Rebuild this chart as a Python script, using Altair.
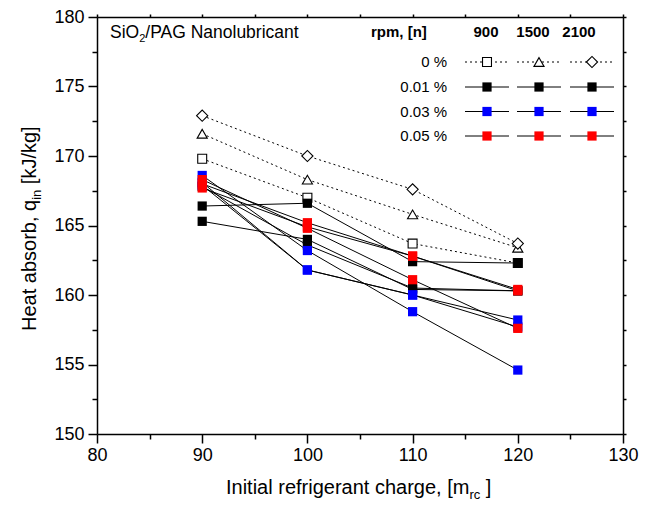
import altair as alt
import pandas as pd

# ---------------- data ----------------
charge = [90, 100, 110, 120]
rpm_levels = ["900", "1500", "2100"]
conc_levels = ["0 %", "0.01 %", "0.03 %", "0.05 %"]

q_0_900 = [169.8, 167.0, 163.7, 162.3]
q_0_1500 = [171.6, 168.3, 165.8, 163.4]
q_0_2100 = [172.9, 170.0, 167.6, 163.7]

q_001_900 = [166.4, 166.6, 162.4, 162.3]
q_001_1500 = [165.3, 164.0, 160.4, 160.3]
q_001_2100 = [167.8, 163.6, 160.5, 160.3]

q_003_900 = [168.1, 161.8, 160.0, 158.2]
q_003_1500 = [167.9, 161.8, 160.0, 157.7]
q_003_2100 = [168.6, 163.2, 158.8, 154.6]

q_005_900 = [168.0, 165.2, 162.8, 160.3]
q_005_1500 = [167.7, 164.9, 162.8, 160.4]
q_005_2100 = [168.3, 164.8, 161.1, 157.6]

x_ticks = [80, 85, 90, 95, 100, 105, 110, 115, 120, 125, 130]
y_ticks = [150, 152.5, 155, 157.5, 160, 162.5, 165, 167.5, 170, 172.5, 175, 177.5, 180]

series_values = {
    ("0 %", "900"): q_0_900, ("0 %", "1500"): q_0_1500, ("0 %", "2100"): q_0_2100,
    ("0.01 %", "900"): q_001_900, ("0.01 %", "1500"): q_001_1500, ("0.01 %", "2100"): q_001_2100,
    ("0.03 %", "900"): q_003_900, ("0.03 %", "1500"): q_003_1500, ("0.03 %", "2100"): q_003_2100,
    ("0.05 %", "900"): q_005_900, ("0.05 %", "1500"): q_005_1500, ("0.05 %", "2100"): q_005_2100,
}

rows = []
for (conc, rpm), vals in series_values.items():
    for c, q in zip(charge, vals):
        rows.append({"charge": c, "q": q, "conc": conc, "rpm": rpm, "series": conc + "|" + rpm})
df = pd.DataFrame(rows)
df_open = df[df["conc"] == "0 %"]
df_fill = df[df["conc"] != "0 %"]

# ---------------- layout / style ----------------
W, H = 526, 417
X_MIN, X_MAX, Y_MIN, Y_MAX = 80, 130, 150, 180
FONT = "Liberation Sans"
xs = alt.Scale(domain=[X_MIN, X_MAX], nice=False, zero=False)
ys = alt.Scale(domain=[Y_MIN, Y_MAX], nice=False, zero=False)


def px_x(p):
    return X_MIN + p / W * (X_MAX - X_MIN)


def px_y(p):
    return Y_MAX - p / H * (Y_MAX - Y_MIN)


shape_scale = alt.Scale(domain=rpm_levels, range=["square", "triangle-up", "diamond"])
size_scale = alt.Scale(domain=rpm_levels, range=[80, 125, 135])
color_scale = alt.Scale(domain=conc_levels[1:], range=["#000000", "#0000ff", "#ff0000"])

axis_bottom = alt.Axis(
    orient="bottom", values=x_ticks, format="d", title=None,
    labelExpr="datum.value % 10 === 0 ? datum.label : ''",
    tickSize={"condition": {"test": "datum.value % 10 === 0", "value": 9}, "value": 5},
    labelPadding=3,
)
axis_left = alt.Axis(
    orient="left", values=y_ticks, format="d", title=None,
    labelExpr="datum.value % 5 === 0 ? datum.label : ''",
    tickSize={"condition": {"test": "datum.value % 5 === 0", "value": 9}, "value": 5},
    labelPadding=4,
)
axis_top = alt.Axis(orient="top", values=x_ticks, labels=False, title=None, tickSize=3)
axis_right = alt.Axis(orient="right", values=y_ticks, labels=False, title=None, tickSize=3)

# axis-carrying invisible layers
axes_bl = alt.Chart(df).mark_point(opacity=0).encode(
    x=alt.X("charge:Q", scale=xs, axis=axis_bottom),
    y=alt.Y("q:Q", scale=ys, axis=axis_left),
)
axes_tr = alt.Chart(df).mark_point(opacity=0).encode(
    x=alt.X("charge:Q", scale=xs, axis=axis_top),
    y=alt.Y("q:Q", scale=ys, axis=axis_right),
)

X = alt.X("charge:Q", scale=xs, axis=None)
Y = alt.Y("q:Q", scale=ys, axis=None)

lines_dotted = alt.Chart(df_open).mark_line(color="black", strokeWidth=1, strokeDash=[2, 3]).encode(
    x=X, y=Y, detail="series:N"
)
lines_solid = alt.Chart(df_fill).mark_line(color="black", strokeWidth=1).encode(
    x=X, y=Y, detail="series:N"
)
open_pts = alt.Chart(df_open).mark_point(
    filled=True, fill="white", stroke="black", strokeWidth=1.1, opacity=1
).encode(
    x=X, y=Y,
    shape=alt.Shape("rpm:N", scale=shape_scale, legend=None),
    size=alt.Size("rpm:N", scale=size_scale, legend=None),
)
fill_pts = alt.Chart(df_fill).mark_point(shape="square", filled=True, size=85, opacity=1).encode(
    x=X, y=Y,
    color=alt.Color("conc:N", scale=color_scale, legend=None),
)

# ---------------- custom legend ----------------
leg_row_y = [45, 70, 94.5, 119]
leg_col_x = [390, 442, 495]
leg_rows = []
for i, conc in enumerate(conc_levels):
    for j, rpm in enumerate(rpm_levels):
        leg_rows.append({
            "conc": conc, "rpm": rpm,
            "lx": px_x(leg_col_x[j]), "lx0": px_x(leg_col_x[j] - 22), "lx1": px_x(leg_col_x[j] + 22),
            "ly": px_y(leg_row_y[i]),
        })
leg = pd.DataFrame(leg_rows)
leg_open = leg[leg["conc"] == "0 %"]
leg_fill = leg[leg["conc"] != "0 %"]

LX = alt.X("lx:Q", scale=xs, axis=None)
LY = alt.Y("ly:Q", scale=ys, axis=None)

leg_rule_dot = alt.Chart(leg_open).mark_rule(color="black", strokeWidth=1, strokeDash=[2, 3]).encode(
    x=alt.X("lx0:Q", scale=xs, axis=None), x2="lx1:Q", y=LY
)
leg_rule_solid = alt.Chart(leg_fill).mark_rule(color="black", strokeWidth=1).encode(
    x=alt.X("lx0:Q", scale=xs, axis=None), x2="lx1:Q", y=LY
)
leg_open_pts = alt.Chart(leg_open).mark_point(
    filled=True, fill="white", stroke="black", strokeWidth=1.1, opacity=1
).encode(
    x=LX, y=LY,
    shape=alt.Shape("rpm:N", scale=shape_scale, legend=None),
    size=alt.Size("rpm:N", scale=size_scale, legend=None),
)
leg_fill_pts = alt.Chart(leg_fill).mark_point(shape="square", filled=True, size=85, opacity=1).encode(
    x=LX, y=LY, color=alt.Color("conc:N", scale=color_scale, legend=None)
)


def txt(s, x, y, size, align="left", baseline="alphabetic", weight="normal", angle=0):
    return alt.Chart(pd.DataFrame({"t": [s]})).mark_text(
        align=align, baseline=baseline, font=FONT, fontSize=size,
        fontWeight=weight, angle=angle, color="black",
    ).encode(text="t:N", x=alt.value(x), y=alt.value(y))


texts = []
# panel title with subscript
TS = 17.5
texts.append(txt("SiO", 13, 21, TS))
texts.append(txt("2", 13 + 1.667 * TS, 25, 11))
texts.append(txt("/PAG Nanolubricant", 13 + 1.667 * TS + 6.1, 21, TS))
# legend header
texts.append(txt("rpm, [n]", 274, 15, 15, baseline="middle", weight="bold"))
for cx, r in zip([389, 436, 482], rpm_levels):
    texts.append(txt(r, cx, 15, 15, align="center", baseline="middle", weight="bold"))
for ry, c in zip(leg_row_y, conc_levels):
    texts.append(txt(c, 350, ry, 15, align="right", baseline="middle"))

# x-axis title with subscript
xt0 = 129
texts.append(txt("Initial refrigerant charge, [m", xt0, 477, 20))
xs1 = xt0 + 12.171 * 20
texts.append(txt("rc", xs1, 482, 13))
texts.append(txt("]", xs1 + 0.833 * 13 + 0.278 * 20, 477, 20))

# y-axis title (rotated) with subscript
yt0 = 314
texts.append(txt("Heat absorb, q", -61, yt0, 20, angle=270))
ys1 = yt0 - 6.559 * 20
texts.append(txt("in", -56, ys1, 13, angle=270))
texts.append(txt("[kJ/kg]", -61, ys1 - 0.778 * 13 - 0.278 * 20, 20, angle=270))

chart = alt.layer(
    axes_bl, axes_tr,
    lines_dotted, lines_solid, open_pts, fill_pts,
    leg_rule_dot, leg_rule_solid, leg_open_pts, leg_fill_pts,
    *texts,
).properties(
    width=W, height=H,
    padding={"left": 89, "top": 9, "right": 22, "bottom": 67},
    autosize=alt.AutoSizeParams(type="none"),
).resolve_axis(
    x="independent", y="independent"
).configure_view(
    stroke=None
).configure_axis(
    labelFont=FONT, labelFontSize=18, labelColor="black",
    domainColor="black", tickColor="black", domainWidth=1.5, tickWidth=1.5,
    grid=False, labelFlush=False, labelOverlap=False,
)

chart.save("out.html", embed_options={"renderer": "svg", "actions": False})
